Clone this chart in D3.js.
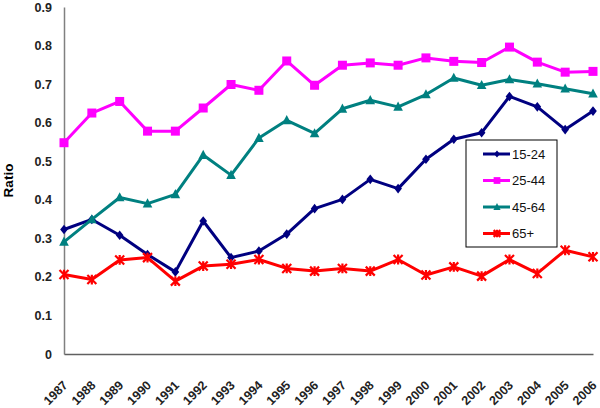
<!DOCTYPE html>
<html>
<head>
<meta charset="utf-8">
<script src="https://cdn.jsdelivr.net/npm/d3@7"></script>
<style>
  body { margin: 0; background: #fff; }
  text { font-family: "Liberation Sans", Arial, sans-serif; }
</style>
</head>
<body>
<div id="chart"></div>
<script>
var years = [1987, 1988, 1989, 1990, 1991, 1992, 1993, 1994, 1995, 1996,
             1997, 1998, 1999, 2000, 2001, 2002, 2003, 2004, 2005, 2006];
var age15to24 = [0.323, 0.349, 0.308, 0.258, 0.213, 0.345, 0.250, 0.267, 0.311, 0.377,
                 0.401, 0.453, 0.429, 0.505, 0.557, 0.574, 0.668, 0.641, 0.582, 0.630];
var age25to44 = [0.548, 0.625, 0.655, 0.578, 0.578, 0.638, 0.699, 0.684, 0.760, 0.697,
                 0.749, 0.755, 0.749, 0.768, 0.759, 0.756, 0.796, 0.757, 0.731, 0.733];
var age45to64 = [0.291, 0.349, 0.406, 0.390, 0.414, 0.516, 0.464, 0.560, 0.606, 0.572,
                 0.636, 0.658, 0.641, 0.673, 0.716, 0.697, 0.712, 0.701, 0.688, 0.675];
var age65plus = [0.206, 0.193, 0.244, 0.250, 0.189, 0.228, 0.233, 0.245, 0.222, 0.215,
                 0.222, 0.215, 0.245, 0.205, 0.226, 0.202, 0.245, 0.209, 0.269, 0.252];
var seriesNames = ["15-24", "25-44", "45-64", "65+"];
var yTicks = [0, 0.1, 0.2, 0.3, 0.4, 0.5, 0.6, 0.7, 0.8, 0.9];

var svgWidth = 600;
var svgHeight = 408;
var margin = { top: 7, right: 6, bottom: 54, left: 64 };
var width = svgWidth - margin.left - margin.right;
var height = svgHeight - margin.top - margin.bottom;

var series = [
  { name: seriesNames[0], values: age15to24, color: "#000080", marker: "diamond" },
  { name: seriesNames[1], values: age25to44, color: "#ff00ff", marker: "square" },
  { name: seriesNames[2], values: age45to64, color: "#008080", marker: "triangle" },
  { name: seriesNames[3], values: age65plus, color: "#ff0000", marker: "cross" }
];

var svg = d3.select("#chart")
  .append("svg")
  .attr("width", svgWidth)
  .attr("height", svgHeight);

var chartGroup = svg.append("g")
  .attr("transform", `translate(${margin.left}, ${margin.top})`);

var xScale = d3.scalePoint().domain(years).range([0, width - 1]);
var yScale = d3.scaleLinear().domain([0, 0.9]).range([height, 0]);

// axes: just the lines and labels, no tick marks
var leftAxis = d3.axisLeft(yScale).tickValues(yTicks).tickSize(0).tickPadding(12)
  .tickFormat(d => d === 0 ? "0" : d3.format(".1f")(d));
var yAxisG = chartGroup.append("g").call(leftAxis);
yAxisG.select(".domain").attr("stroke", "#808080").attr("stroke-width", 1.5);
yAxisG.selectAll("text")
  .attr("font-size", 12.5).attr("font-weight", 700).attr("fill", "#222");

var bottomAxis = d3.axisBottom(xScale).tickSize(0).tickPadding(0);
var xAxisG = chartGroup.append("g")
  .attr("transform", `translate(0, ${height})`)
  .call(bottomAxis);
xAxisG.select(".domain").attr("stroke", "#606060").attr("stroke-width", 1.5);
xAxisG.selectAll("text")
  .attr("font-family", "'Liberation Sans Narrow', 'Liberation Sans', Arial, sans-serif")
  .attr("font-size", 12.5).attr("font-weight", 700).attr("fill", "#222")
  .attr("text-anchor", "end")
  .attr("transform", "translate(4, 32) rotate(-45)")
  .attr("dy", "0");

chartGroup.append("text")
  .attr("transform", "rotate(-90)")
  .attr("x", -(height / 2))
  .attr("y", -margin.left + 13)
  .style("text-anchor", "middle")
  .attr("font-size", 13.5)
  .attr("font-weight", 700)
  .text("Ratio");

function drawMarker(g, type, color, s) {
  if (type === "diamond") {
    g.append("path").attr("d", `M0,${-s}L${s * 0.8},0L0,${s}L${-s * 0.8},0Z`).attr("fill", color);
  } else if (type === "square") {
    g.append("rect").attr("x", -s).attr("y", -s).attr("width", 2 * s).attr("height", 2 * s).attr("fill", color);
  } else if (type === "triangle") {
    g.append("path").attr("d", `M0,${-s * 1.1}L${s},${s * 0.8}L${-s},${s * 0.8}Z`).attr("fill", color);
  } else {
    g.append("path").attr("d", `M${-s},${-s}L${s},${s}M${-s},${s}L${s},${-s}M0,${-s * 1.1}L0,${s * 1.1}`)
      .attr("stroke", color).attr("stroke-width", 2.2).attr("fill", "none");
  }
}

var line = d3.line()
  .x((d, i) => xScale(years[i]))
  .y(d => yScale(d));

var sizes = { diamond: 4.8, square: 4.5, triangle: 4.8, cross: 4.5 };

series.forEach(function(s) {
  chartGroup.append("path")
    .datum(s.values)
    .attr("fill", "none")
    .attr("stroke", s.color)
    .attr("stroke-width", 3)
    .attr("stroke-linejoin", "round")
    .attr("d", line);

  s.values.forEach(function(v, i) {
    var g = chartGroup.append("g")
      .attr("transform", `translate(${xScale(years[i])}, ${yScale(v)})`);
    drawMarker(g, s.marker, s.color, sizes[s.marker]);
  });
});

// legend
var legend = svg.append("g").attr("transform", "translate(466, 140)");
legend.append("rect")
  .attr("x", 0).attr("y", 0).attr("width", 91).attr("height", 107)
  .attr("fill", "#fff").attr("stroke", "#000").attr("stroke-width", 1);

series.forEach(function(s, i) {
  var row = legend.append("g").attr("transform", `translate(0, ${14 + i * 26.5})`);
  row.append("line")
    .attr("x1", 17).attr("x2", 44).attr("y1", 0).attr("y2", 0)
    .attr("stroke", s.color).attr("stroke-width", 3);
  var m = row.append("g").attr("transform", "translate(31, 0)");
  drawMarker(m, s.marker, s.color, sizes[s.marker] * 0.75);
  row.append("text")
    .attr("x", 46).attr("y", 0).attr("dy", "0.35em")
    .attr("font-family", "'Liberation Sans Narrow', 'Liberation Sans', Arial, sans-serif")
    .attr("font-size", 13)
    .attr("fill", "#111")
    .text(s.name);
});
</script>
</body>
</html>
